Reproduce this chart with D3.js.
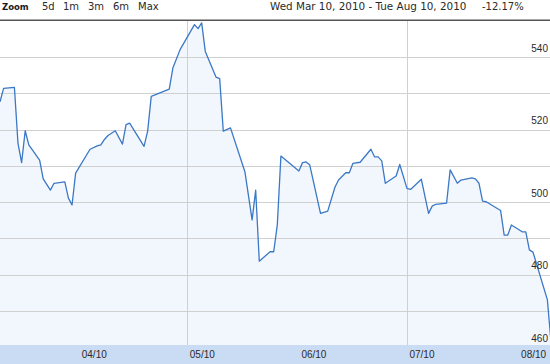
<!DOCTYPE html>
<html>
<head>
<meta charset="utf-8">
<script src="https://cdn.jsdelivr.net/npm/d3@7"></script>
<style>
  body { margin: 0; background: #fff; }
  svg { display: block; font-family: "DejaVu Sans", Verdana, sans-serif; }
  .hdr { font-size: 10px; fill: #2a2a2a; }
  .axis text { font-size: 10px; fill: #2a2a2a; }
</style>
</head>
<body>
<svg width="550" height="364"></svg>
<script>
// price points
var dates = [
  "2010-03-10","2010-03-11","2010-03-14","2010-03-15","2010-03-16","2010-03-17","2010-03-18",
  "2010-03-21","2010-03-22","2010-03-24","2010-03-25","2010-03-28","2010-03-29","2010-03-30",
  "2010-03-31","2010-04-04","2010-04-06","2010-04-07","2010-04-08","2010-04-09","2010-04-11",
  "2010-04-13","2010-04-14","2010-04-15","2010-04-19","2010-04-20","2010-04-21","2010-04-26",
  "2010-04-27","2010-04-29","2010-05-03","2010-05-04","2010-05-05","2010-05-06","2010-05-09",
  "2010-05-10","2010-05-11","2010-05-13","2010-05-17","2010-05-19","2010-05-20","2010-05-21",
  "2010-05-24","2010-05-25","2010-05-26","2010-05-27","2010-06-01","2010-06-02","2010-06-03",
  "2010-06-04","2010-06-07","2010-06-09","2010-06-11","2010-06-12","2010-06-14","2010-06-15",
  "2010-06-16","2010-06-18","2010-06-21","2010-06-22","2010-06-23","2010-06-24","2010-06-25",
  "2010-06-28","2010-06-29","2010-07-01","2010-07-02","2010-07-05","2010-07-07","2010-07-08",
  "2010-07-09","2010-07-12","2010-07-13","2010-07-15","2010-07-16","2010-07-19","2010-07-20",
  "2010-07-21","2010-07-22","2010-07-23","2010-07-27","2010-07-28","2010-07-29","2010-07-30",
  "2010-08-02","2010-08-03","2010-08-04","2010-08-05","2010-08-09","2010-08-10"
];
var prices = [
  527.7,531.4,531.7,516.2,510.9,519.7,515.8,
  511.6,506.4,503.3,505.2,505.6,501.1,499.2,
  508.0,514.6,515.5,515.8,517.3,518.4,519.7,
  516.0,521.4,521.8,515.4,519.6,529.2,531.2,
  537.0,542.1,549.0,547.9,549.5,541.6,534.5,
  534.1,519.6,520.5,508.4,495.1,503.3,483.7,
  486.3,486.3,493.7,512.7,508.6,510.9,511.1,
  510.3,496.9,497.5,504.1,506.1,508.1,508.1,
  510.7,511.0,514.6,512.5,512.5,511.4,505.2,
  507.2,510.4,503.8,503.5,506.3,496.9,498.9,
  499.4,499.7,508.9,505.2,506.1,506.7,506.4,
  505.2,500.3,500.1,497.7,490.9,490.9,493.7,
  491.8,491.8,486.8,486.2,473.0,461.4
];
var priceTicks = [460, 480, 500, 520, 540];
var gridValues = [470, 480, 490, 500, 510, 520, 530, 540];
var monthTicks = ["2010-04-01", "2010-05-01", "2010-06-01", "2010-07-01", "2010-08-01"];
var monthGrid = ["2010-05-01", "2010-07-01"];
var zoomLinks = ["5d", "1m", "3m", "6m", "Max"];
var rangeLabel = "Wed Mar 10, 2010 - Tue Aug 10, 2010";
var changeLabel = "-12.17%";

var parse = d3.timeParse("%Y-%m-%d");
var data = dates.map(function(d, i) { return { date: parse(d), value: prices[i] }; });

var svg = d3.select("svg"),
    width = +svg.attr("width"),
    plotTop = 21, plotBottom = 345;

var x = d3.scaleTime()
    .domain([parse("2010-03-10"), parse("2010-08-10")])
    .range([0, 551]);

var y = d3.scaleLinear()
    .domain([460, 550])
    .range([347, 21]);

// header
svg.append("text").attr("class", "hdr").attr("x", 2).attr("y", 10)
    .style("font-weight", "bold").style("fill", "#1a1a1a").style("font-size", "8.5px")
    .text("Zoom");
var linkX = [42, 63, 88, 113, 138];
svg.selectAll(".zl").data(zoomLinks).enter().append("text")
    .attr("class", "hdr zl")
    .attr("x", function(d, i) { return linkX[i]; })
    .attr("y", 10)
    .text(function(d) { return d; });
svg.append("text").attr("class", "hdr").attr("x", 270).attr("y", 10)
    .style("font-size", "10.4px").text(rangeLabel);
svg.append("text").attr("class", "hdr").attr("x", 482).attr("y", 10).text(changeLabel);
svg.append("rect").attr("x", 0).attr("y", 19.5).attr("width", width).attr("height", 1.5).attr("fill", "#555");

// plot
var plot = svg.append("g");
plot.append("defs").append("clipPath").attr("id", "clip")
  .append("rect").attr("x", 0).attr("y", plotTop).attr("width", width).attr("height", plotBottom - plotTop);

var area = d3.area()
    .x(function(d) { return x(d.date); })
    .y0(plotBottom)
    .y1(function(d) { return y(d.value); });

var line = d3.line()
    .x(function(d) { return x(d.date); })
    .y(function(d) { return y(d.value); });

plot.append("path").datum(data)
    .attr("clip-path", "url(#clip)")
    .attr("fill", "#f2f7fd")
    .attr("d", area);

plot.selectAll(".hgrid").data(gridValues).enter().append("line")
    .attr("x1", 0).attr("x2", width)
    .attr("y1", function(d) { return Math.round(y(d)) + 0.5; })
    .attr("y2", function(d) { return Math.round(y(d)) + 0.5; })
    .attr("stroke", "#d0d0d0");

plot.selectAll(".vgrid").data(monthGrid).enter().append("line")
    .attr("x1", function(d) { return Math.round(x(parse(d))) + 0.5; })
    .attr("x2", function(d) { return Math.round(x(parse(d))) + 0.5; })
    .attr("y1", plotTop).attr("y2", plotBottom)
    .attr("stroke", "#d0d0d0");

plot.append("path").datum(data)
    .attr("clip-path", "url(#clip)")
    .attr("fill", "none")
    .attr("stroke", "#3b78c6")
    .attr("stroke-width", 1.3)
    .attr("stroke-linejoin", "round")
    .attr("d", line);

// price labels
var yAxis = svg.append("g").attr("class", "axis")
    .attr("transform", "translate(548,0)")
    .call(d3.axisLeft(y).tickValues(priceTicks).tickSize(0).tickPadding(0));
yAxis.select(".domain").remove();
yAxis.selectAll("text").attr("dy", "-0.6em").style("font-family", null);

// date band
svg.append("rect").attr("x", 0).attr("y", plotBottom).attr("width", width).attr("height", 364 - plotBottom)
    .attr("fill", "#cadcf4");
var xAxis = svg.append("g").attr("class", "axis")
    .attr("transform", "translate(0," + plotBottom + ")")
    .call(d3.axisBottom(x).tickValues(monthTicks.map(parse))
      .tickFormat(d3.timeFormat("%m/%y")).tickSize(0).tickPadding(0));
xAxis.select(".domain").remove();
xAxis.selectAll("text").attr("text-anchor", "start").attr("dx", 2).attr("y", 13).attr("dy", 0)
    .style("font-family", null);
</script>
</body>
</html>
